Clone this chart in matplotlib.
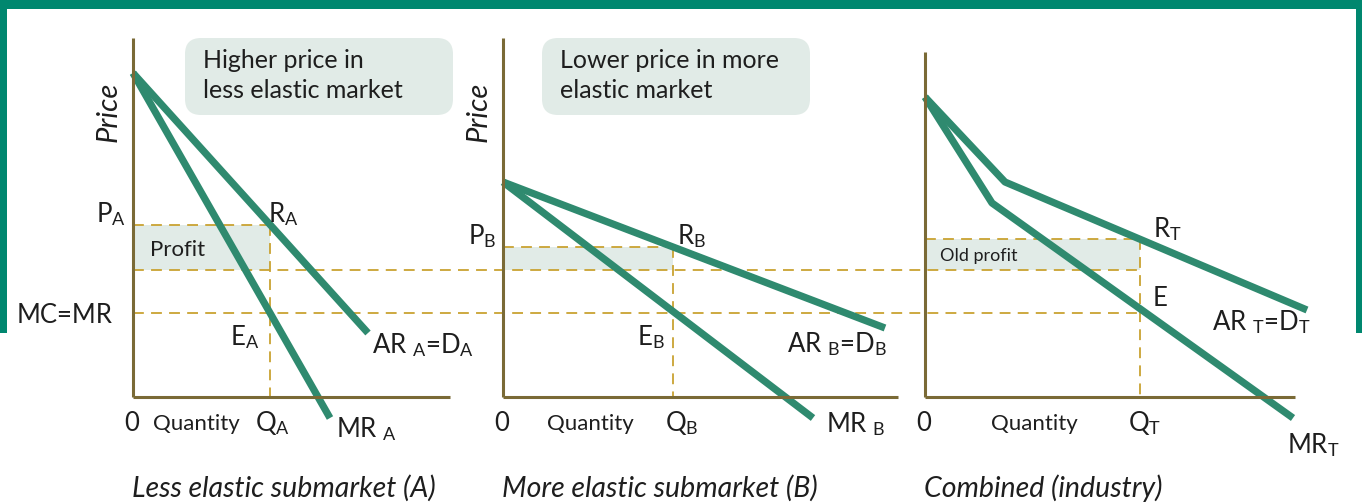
import matplotlib
matplotlib.use("Agg")
import matplotlib.pyplot as plt
import numpy as np
from matplotlib.patches import FancyBboxPatch, Rectangle

plt.rcParams['font.family'] = ['Lato', 'DejaVu Sans']
plt.rcParams['mathtext.fontset'] = 'custom'
plt.rcParams['mathtext.rm'] = 'Lato'
plt.rcParams['mathtext.it'] = 'Lato:italic'

# ---------------- data (local quantity / price units of each panel) ----------------
panel_keys = ['A', 'B', 'T']
titles = ['Less elastic submarket (A)', 'More elastic submarket (B)', 'Combined (industry)']
notes = [['Higher price in', 'less elastic market'], ['Lower price in more', 'elastic market'], None]

ar_q = {'A': [0, 235], 'B': [0, 382], 'T': [0, 80, 382]}
ar_p = {'A': [324, 64], 'B': [215, 69], 'T': [300, 215, 87]}
mr_q = {'A': [0, 197], 'B': [0, 310], 'T': [0, 67, 368]}
mr_p = {'A': [324, -21], 'B': [215, -21], 'T': [300, 194, -21]}

price_level = {'A': 172, 'B': 150, 'T': 158}
quantity_level = {'A': 137, 'B': 170, 'T': 215}
mc_level = 84
cost_level = 127

# ---------------- layout (pixels) ----------------
W, H = 1362, 504
origin_x = {'A': 133, 'B': 503, 'T': 925}
origin_y = 397
xaxis_len = {'A': 317, 'B': 395, 'T': 370}
yaxis_top = {'A': 38, 'B': 38, 'T': 52}

GREEN = '#2f8a6f'
BORDER = '#00876f'
AXIS = '#7a6a36'
DASH = '#c9a232'
FILL = '#e1ebe7'
TXT = '#1e1e1e'

fig = plt.figure(figsize=(W / 100, H / 100), dpi=100)
ax = fig.add_axes([0, 0, 1, 1])
ax.set_xlim(0, W)
ax.set_ylim(H, 0)
ax.axis('off')

# border
ax.add_patch(Rectangle((0, 0), W, 9, color=BORDER, lw=0, zorder=1))
ax.add_patch(Rectangle((0, 0), 7, 333, color=BORDER, lw=0, zorder=1))
ax.add_patch(Rectangle((W - 6, 0), 6, 333, color=BORDER, lw=0, zorder=1))

dash_kw = dict(color=DASH, lw=1.3, dashes=(6, 4), zorder=3)

# long dashed levels across panels
x_end = origin_x['T'] + quantity_level['T']
for lvl in (cost_level, mc_level):
    ax.plot([origin_x['A'], x_end], [origin_y - lvl, origin_y - lvl], **dash_kw)

for k in panel_keys:
    ox = origin_x[k]
    P, Q = price_level[k], quantity_level[k]
    # profit box
    ax.add_patch(Rectangle((ox, origin_y - P), Q, P - cost_level, color=FILL, lw=0, zorder=2))
    ax.plot([ox, ox + Q], [origin_y - P, origin_y - P], **dash_kw)
    ax.plot([ox + Q, ox + Q], [origin_y - P, origin_y], **dash_kw)
    # curves
    ax.plot(ox + np.array(ar_q[k]), origin_y - np.array(ar_p[k]), color=GREEN, lw=5.2,
            solid_capstyle='butt', solid_joinstyle='round', zorder=4)
    ax.plot(ox + np.array(mr_q[k]), origin_y - np.array(mr_p[k]), color=GREEN, lw=5.2,
            solid_capstyle='butt', solid_joinstyle='round', zorder=4)
    # axes
    ax.plot([ox, ox], [origin_y, yaxis_top[k]], color=AXIS, lw=2.2, zorder=5, solid_capstyle='butt')
    ax.plot([ox, ox + xaxis_len[k]], [origin_y, origin_y], color=AXIS, lw=2.2, zorder=5,
            solid_capstyle='butt')

# note boxes
box_x = {'A': (185, 453), 'B': (542, 810)}
for k, note in zip(panel_keys, notes):
    if note is None:
        continue
    x0, x1 = box_x[k]
    ax.add_patch(FancyBboxPatch((x0, 38), x1 - x0, 77, boxstyle='round,pad=0,rounding_size=16',
                                color=FILL, lw=0, zorder=2))
    for i, line in enumerate(note):
        ax.text(x0 + 18, 68 + 30 * i, line, fontsize=18, color=TXT, ha='left',
                va='baseline', zorder=6)

lab = dict(fontsize=18.5, color=TXT, zorder=6, va='baseline')
small = dict(fontsize=16, color=TXT, zorder=6, va='baseline')

# Panel A labels
ax.text(96, 222, r'P$_\mathregular{A}$', ha='left', **lab)
ax.text(268, 222, r'R$_\mathregular{A}$', ha='left', **lab)
ax.text(150, 256, 'Profit', ha='left', **small)
ax.text(17, 323, 'MC=MR', ha='left', **lab)
ax.text(230, 345, r'E$_\mathregular{A}$', ha='left', **lab)
ax.text(372, 353, r'AR $_\mathregular{A}$=D$_\mathregular{A}$', ha='left', **lab)
ax.text(336, 437, r'MR $_\mathregular{A}$', ha='left', **lab)
ax.text(255, 431, r'Q$_\mathregular{A}$', ha='left', **lab)

# Panel B labels
ax.text(468, 244, r'P$_\mathregular{B}$', ha='left', **lab)
ax.text(677, 244, r'R$_\mathregular{B}$', ha='left', **lab)
ax.text(637, 345, r'E$_\mathregular{B}$', ha='left', **lab)
ax.text(787, 352, r'AR $_\mathregular{B}$=D$_\mathregular{B}$', ha='left', **lab)
ax.text(826, 432, r'MR $_\mathregular{B}$', ha='left', **lab)
ax.text(665, 431, r'Q$_\mathregular{B}$', ha='left', **lab)

# Panel T labels
ax.text(1153, 237, r'R$_\mathregular{T}$', ha='left', **lab)
ax.text(1153, 306, 'E', ha='left', **lab)
ax.text(1212, 330, r'AR $_\mathregular{T}$=D$_\mathregular{T}$', ha='left', **lab)
ax.text(940, 261, 'Old profit', ha='left', fontsize=13, color=TXT, zorder=6, va='baseline')
ax.text(1287, 453, r'MR$_\mathregular{T}$', ha='left', **lab)
ax.text(1128, 431, r'Q$_\mathregular{T}$', ha='left', **lab)

# common axis labels and titles
quant_x = {'A': 153, 'B': 547, 'T': 991}
for k, title in zip(panel_keys, titles):
    ox = origin_x[k]
    ax.text(ox - 1, 431, '0', ha='center', **lab)
    ax.text(quant_x[k], 430, 'Quantity', ha='left', **small)
    ax.text(ox - 1, 497, title, ha='left', fontsize=20.5, style='italic', color=TXT, va='baseline')
for k in ('A', 'B'):
    ax.text(origin_x[k] - 24, 112, 'Price', rotation=90, ha='center', va='center',
            fontsize=21, style='italic', color=TXT)

fig.savefig('out.png', dpi=100)
